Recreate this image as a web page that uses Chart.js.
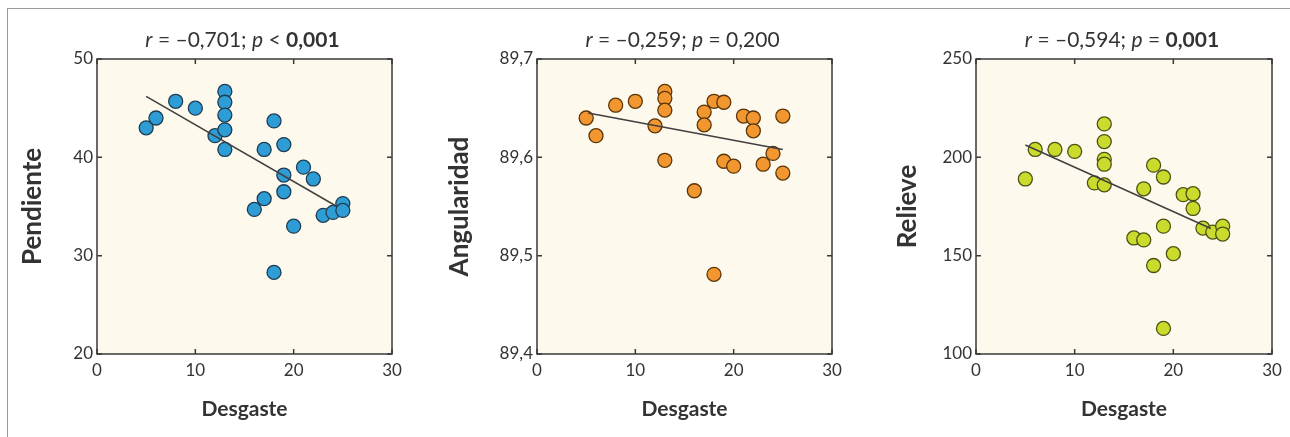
<!DOCTYPE html>
<html>
<head>
<meta charset="utf-8">
<script src="https://cdn.jsdelivr.net/npm/chart.js@4.4.1/dist/chart.umd.min.js"></script>
<style>
  html, body { margin: 0; padding: 0; background: #ffffff; }
  #wrap { position: relative; width: 1290px; height: 437px; overflow: hidden; }
  #frame { position: absolute; left: 7px; top: 8px; width: 1400px; height: 500px;
           border-left: 1px solid #9a9a9a; border-top: 1px solid #9a9a9a; }
  canvas { position: absolute; top: 0; }
</style>
</head>
<body>
<div id="wrap">
  <div id="frame"></div>
  <canvas id="c1" width="410" height="437" style="left:0px"></canvas>
  <canvas id="c2" width="420" height="437" style="left:430px"></canvas>
  <canvas id="c3" width="420" height="437" style="left:870px"></canvas>
</div>
<script>
// ---------------- DATA ----------------
const xAxisTitle = 'Desgaste';
const xTickValues = [0, 10, 20, 30];
const xTickLabels = ['0', '10', '20', '30'];

// Panel 1 : Pendiente
const desgaste1  = [5, 6, 8, 10, 12, 13, 13, 13, 13, 13, 18, 17, 19, 21, 22, 19, 19, 17, 16, 20, 18, 23, 24, 25, 25];
const pendiente  = [43, 44, 45.7, 45, 42.2, 46.7, 45.6, 44.3, 42.8, 40.8, 43.7, 40.8, 41.3, 39, 37.8, 38.2, 36.5, 35.8, 34.7, 33, 28.3, 34.1, 34.4, 35.3, 34.6];
const fitX1 = [5, 24.4];
const fitY1 = [46.2, 35.0];
const yTickValues1 = [20, 30, 40, 50];
const yTickLabels1 = ['20', '30', '40', '50'];
const yTitle1 = 'Pendiente';
const title1 = [['r', 'italic'], [' = \u20130,701; ', 'normal'], ['p', 'italic'], [' < ', 'normal'], ['0,001', 'bold']];

// Panel 2 : Angularidad
const desgaste2   = [5, 6, 8, 10, 12, 13, 13, 13, 13, 16, 17, 17, 18, 19, 18, 19, 20, 21, 22, 22, 23, 24, 25, 25];
const angularidad = [89.640, 89.622, 89.653, 89.657, 89.632, 89.667, 89.660, 89.648, 89.597, 89.566, 89.646, 89.633, 89.657, 89.656, 89.481, 89.596, 89.591, 89.642, 89.640, 89.627, 89.593, 89.604, 89.642, 89.584];
const fitX2 = [5.2, 25];
const fitY2 = [89.645, 89.608];
const yTickValues2 = [89.4, 89.5, 89.6, 89.7];
const yTickLabels2 = ['89,4', '89,5', '89,6', '89,7'];
const yTitle2 = 'Angularidad';
const title2 = [['r', 'italic'], [' = \u20130,259; ', 'normal'], ['p', 'italic'], [' = 0,200', 'normal']];

// Panel 3 : Relieve
const desgaste3 = [5, 6, 8, 10, 12, 13, 13, 13, 13, 13, 17, 18, 19, 21, 22, 22, 19, 16, 17, 18, 20, 19, 23, 24, 25, 25];
const relieve   = [189, 204, 204, 203, 187, 217, 208, 199, 196.5, 186, 184, 196, 190, 181, 181.5, 174, 165, 159, 158, 145, 151, 113, 164, 162, 165, 161];
const fitX3 = [5, 23.8];
const fitY3 = [206.3, 163.8];
const yTickValues3 = [100, 150, 200, 250];
const yTickLabels3 = ['100', '150', '200', '250'];
const yTitle3 = 'Relieve';
const title3 = [['r', 'italic'], [' = \u20130,594; ', 'normal'], ['p', 'italic'], [' = ', 'normal'], ['0,001', 'bold']];

// ---------------- STYLE ----------------
const FONT = 'Lato, "Open Sans", sans-serif';
const TEXT = '#333333';
const PLOT_BG = '#FDF9EC';

const plotDecor = {
  id: 'plotDecor',
  beforeDatasetsDraw(chart) {
    const {ctx, chartArea: a} = chart;
    ctx.save();
    ctx.fillStyle = PLOT_BG;
    ctx.fillRect(a.left, a.top, a.right - a.left, a.bottom - a.top);
    ctx.restore();
  },
  afterDraw(chart, args, opts) {
    const {ctx, chartArea: a} = chart;
    const xs = chart.scales.x, ys = chart.scales.y;
    ctx.save();
    ctx.strokeStyle = '#3a3a3a';
    ctx.lineWidth = 1.5;
    const tl = 5;
    ctx.beginPath();
    xs.ticks.forEach(t => {
      const px = xs.getPixelForValue(t.value);
      ctx.moveTo(px, a.bottom); ctx.lineTo(px, a.bottom - tl);
      ctx.moveTo(px, a.top); ctx.lineTo(px, a.top + tl);
    });
    ys.ticks.forEach(t => {
      const py = ys.getPixelForValue(t.value);
      ctx.moveTo(a.left, py); ctx.lineTo(a.left + tl, py);
      ctx.moveTo(a.right, py); ctx.lineTo(a.right - tl, py);
    });
    ctx.stroke();
    ctx.strokeRect(a.left, a.top, a.right - a.left, a.bottom - a.top);
    // rich title
    const segs = opts.segments || [];
    const size = 21;
    const fontFor = st => (st === 'italic' ? 'italic ' : '') + (st === 'bold' ? 'bold ' : '') + size + 'px ' + FONT;
    let total = 0;
    segs.forEach(s => { ctx.font = fontFor(s[1]); total += ctx.measureText(s[0]).width; });
    let x = (a.left + a.right) / 2 - total / 2 - 2;
    ctx.fillStyle = TEXT;
    ctx.textBaseline = 'middle';
    ctx.textAlign = 'left';
    segs.forEach(s => {
      ctx.font = fontFor(s[1]);
      ctx.fillText(s[0], x, opts.y);
      x += ctx.measureText(s[0]).width;
    });
    ctx.restore();
  }
};

function makeChart(id, xs, ys, fx, fy, yVals, yLbls, yTitle, segs, color, border, yAxisW, yTitlePad) {
  const pts = xs.map((v, i) => ({x: v, y: ys[i]}));
  const fit = fx.map((v, i) => ({x: v, y: fy[i]}));
  return new Chart(document.getElementById(id), {
    type: 'scatter',
    data: {
      datasets: [
        { type: 'line', data: fit, borderColor: '#404040', borderWidth: 1.5, pointRadius: 0, fill: false, order: 0 },
        { data: pts, backgroundColor: color, borderColor: border, borderWidth: 1.3, pointRadius: 7, order: 1 }
      ]
    },
    options: {
      responsive: false,
      animation: false,
      events: [],
      layout: { padding: { left: 0, right: 18, top: 59, bottom: 0 } },
      plugins: {
        legend: { display: false },
        tooltip: { enabled: false },
        plotDecor: { segments: segs, y: 40 }
      },
      scales: {
        x: {
          type: 'linear', min: 0, max: 30,
          grid: { display: false, drawTicks: false },
          border: { display: false },
          afterBuildTicks: s => { s.ticks = xTickValues.map(v => ({value: v})); },
          afterFit: s => { s.height = 83; },
          ticks: { padding: 6, color: TEXT, font: { family: FONT, size: 17 },
                   callback: (v, i) => xTickLabels[i] },
          title: { display: true, text: xAxisTitle, color: TEXT,
                   font: { family: FONT, size: 21, weight: 'bold' }, padding: { top: 0, bottom: 15 } }
        },
        y: {
          type: 'linear', min: yVals[0], max: yVals[yVals.length - 1],
          grid: { display: false, drawTicks: false },
          border: { display: false },
          afterBuildTicks: s => { s.ticks = yVals.map(v => ({value: v})); },
          afterFit: s => { s.width = yAxisW; },
          ticks: { padding: 4, color: TEXT, font: { family: FONT, size: 17 },
                   callback: (v, i) => yLbls[i] },
          title: { display: true, text: yTitle, color: TEXT,
                   font: { family: FONT, size: 26, weight: 'bold' }, padding: { top: yTitlePad, bottom: 0 } }
        }
      }
    },
    plugins: [plotDecor]
  });
}

makeChart('c1', desgaste1, pendiente, fitX1, fitY1, yTickValues1, yTickLabels1, yTitle1, title1,
          '#2E9DD6', '#1d3c52', 97, 17);
makeChart('c2', desgaste2, angularidad, fitX2, fitY2, yTickValues2, yTickLabels2, yTitle2, title2,
          '#F2962F', '#5a3407', 107, 14);
makeChart('c3', desgaste3, relieve, fitX3, fitY3, yTickValues3, yTickLabels3, yTitle3, title3,
          '#CADB2E', '#4a5212', 106, 22);
</script>
</body>
</html>
